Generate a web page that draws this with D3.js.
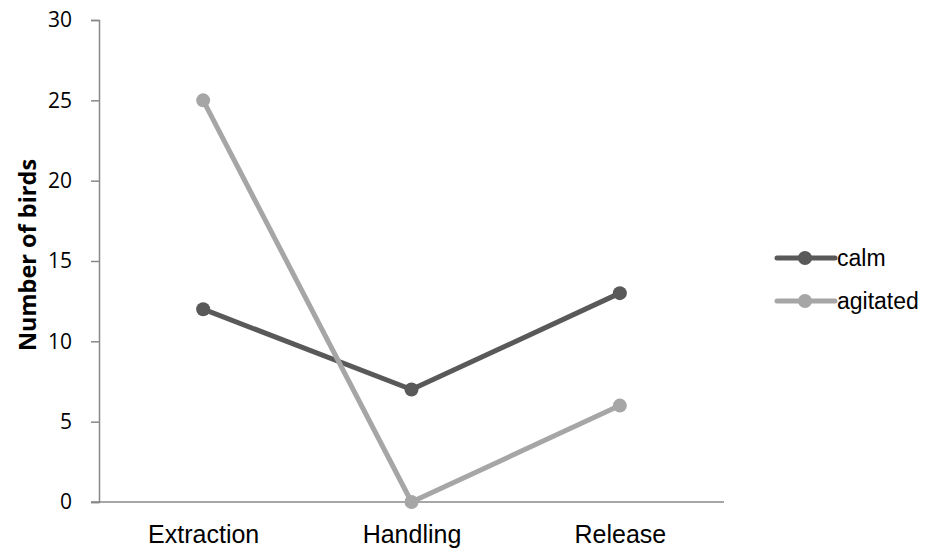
<!DOCTYPE html>
<html>
<head>
<meta charset="utf-8">
<script src="https://cdn.jsdelivr.net/npm/d3@7"></script>
<style>
  html, body { margin: 0; padding: 0; background: #fff; }
  svg { display: block; }
</style>
</head>
<body>
<svg id="chart" width="925" height="548"></svg>
<script>
// Behaviour of birds at each stage
const stages = ["Extraction", "Handling", "Release"];
const calm = [12, 7, 13];
const agitated = [25, 0, 6];
const yTicks = [0, 5, 10, 15, 20, 25, 30];
const seriesNames = ["calm", "agitated"];
const seriesColors = ["#595959", "#a6a6a6"];

const svg = d3.select("#chart");
const margin = { left: 99, right: 201, top: 20, bottom: 46 };
const W = 925, H = 548;

const x = d3.scalePoint().domain(stages).range([margin.left, W - margin.right]).padding(0.5);
const y = d3.scaleLinear().domain([0, 30]).range([H - margin.bottom, margin.top]);

// y axis
const yAxis = svg.append("g")
  .attr("transform", `translate(${margin.left},0)`)
  .call(d3.axisLeft(y).tickValues(yTicks).tickSize(8).tickPadding(19));
yAxis.select(".domain").attr("stroke", "#888").attr("stroke-width", 1.5);
yAxis.selectAll(".tick line").attr("stroke", "#888").attr("stroke-width", 1.5);
yAxis.selectAll(".tick text")
  .attr("font-family", "'Open Sans', sans-serif")
  .attr("font-size", 21).attr("fill", "#000");

// x axis
const xAxis = svg.append("g")
  .attr("transform", `translate(0,${H - margin.bottom})`)
  .call(d3.axisBottom(x).tickSize(0));
xAxis.select(".domain")
  .attr("d", `M${margin.left - 8},0H${W - margin.right}`)
  .attr("stroke", "#888").attr("stroke-width", 1.5);
xAxis.selectAll(".tick text")
  .attr("font-family", "'Liberation Sans', Arial, sans-serif")
  .attr("font-size", 25).attr("fill", "#000")
  .attr("y", 41).attr("dy", 0);

// y axis title
svg.append("text")
  .attr("transform", `translate(36,255) rotate(-90)`)
  .attr("text-anchor", "middle")
  .attr("font-family", "'Open Sans', sans-serif")
  .attr("font-weight", "bold")
  .attr("font-size", 23.5)
  .text("Number of birds");

// series lines and markers
const series = [calm, agitated];
const line = d3.line().x((d, i) => x(stages[i])).y(d => y(d));
series.forEach((vals, si) => {
  const g = svg.append("g");
  g.append("path").datum(vals)
    .attr("d", line)
    .attr("fill", "none")
    .attr("stroke", seriesColors[si])
    .attr("stroke-width", 5)
    .attr("stroke-linejoin", "round");
  g.selectAll("circle").data(vals).join("circle")
    .attr("cx", (d, i) => x(stages[i]))
    .attr("cy", d => y(d))
    .attr("r", 7)
    .attr("fill", seriesColors[si]);
});

// legend
const legend = svg.append("g").attr("transform", "translate(777,258)");
seriesNames.forEach((name, i) => {
  const row = legend.append("g").attr("transform", `translate(0,${i * 43})`);
  row.append("line").attr("x1", 0).attr("x2", 58).attr("y1", 0).attr("y2", 0)
    .attr("stroke", seriesColors[i]).attr("stroke-width", 5).attr("stroke-linecap", "round");
  row.append("circle").attr("cx", 28).attr("cy", 0).attr("r", 7).attr("fill", seriesColors[i]);
  row.append("text").attr("x", 60).attr("y", 0).attr("dy", "0.35em")
    .attr("font-family", "'Liberation Sans', Arial, sans-serif")
    .attr("font-size", 23).attr("fill", "#000")
    .text(name);
});
</script>
</body>
</html>
